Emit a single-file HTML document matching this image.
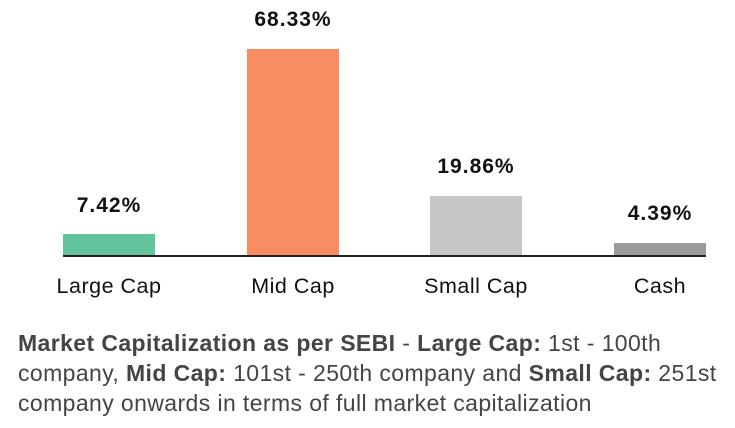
<!DOCTYPE html>
<html><head><style>
body{margin:0;width:735px;height:428px;background:#fff;font-family:"Liberation Sans",sans-serif;position:relative;overflow:hidden}
.b{position:absolute}
.v{position:absolute;font-weight:bold;font-size:21px;letter-spacing:1px;color:#111;text-align:center;width:160px}
.c{position:absolute;font-size:21.5px;letter-spacing:0.5px;color:#111;text-align:center;width:180px;top:274px}
.f{position:absolute;left:18px;top:328px;font-size:23px;letter-spacing:0.4px;line-height:30px;color:#444;width:730px;white-space:nowrap}
</style></head><body>
<div class="b" style="left:63px;top:234px;width:92px;height:22px;background:#62c49c"></div>
<div class="b" style="left:247px;top:49px;width:92px;height:207px;background:#f98d62"></div>
<div class="b" style="left:430px;top:196px;width:92px;height:60px;background:#c6c6c6"></div>
<div class="b" style="left:614px;top:243px;width:92px;height:13px;background:#9b9b9e"></div>
<div class="b" style="left:63px;top:255px;width:643px;height:2px;background:#222"></div>
<div class="v" style="left:29px;top:194px">7.42%</div>
<div class="v" style="left:213px;top:8px">68.33%</div>
<div class="v" style="left:396px;top:155px">19.86%</div>
<div class="v" style="left:580px;top:202px">4.39%</div>
<div class="c" style="left:19px">Large Cap</div>
<div class="c" style="left:203px">Mid Cap</div>
<div class="c" style="left:386px">Small Cap</div>
<div class="c" style="left:570px">Cash</div>
<div class="f"><b>Market Capitalization as per SEBI</b> - <b>Large Cap:</b> 1st - 100th<br>company, <b>Mid Cap:</b> 101st - 250th company and <b>Small Cap:</b> 251st<br>company onwards in terms of full market capitalization</div>
</body></html>
